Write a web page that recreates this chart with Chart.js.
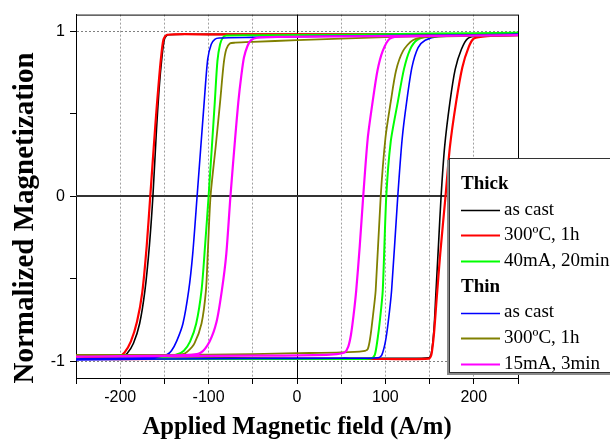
<!DOCTYPE html>
<html>
<head>
<meta charset="utf-8">
<script src="https://cdn.jsdelivr.net/npm/chart.js@4.4.0/dist/chart.umd.min.js"></script>
<style>
html, body { margin: 0; padding: 0; background: #fff; overflow: hidden; }
#wrap { position: relative; width: 610px; height: 441px; }
</style>
</head>
<body>
<div id="wrap"><canvas id="loops" width="610" height="441"></canvas></div>
<script>
"use strict";
/* globals Chart */

// each loop: descending branch (+250 -> -250) then ascending branch (-250 -> +250)
const thickCastH = [250, 150, 0, -100, -146, -150, -153, -156, -159, -163, -167, -172, -178, -185, -192, -198, -212, -250,
	-250, -150, 0, 100, 149, 152, 155, 157, 160, 163, 167, 173, 179, 186, 193, 205, 250];
const thickCastM = [0.975, 0.98, 0.98, 0.98, 0.978, 0.95, 0.83, 0.65, 0.4, 0, -0.3, -0.57, -0.77, -0.89, -0.95, -0.968, -0.978, -0.982,
	-0.982, -0.98, -0.98, -0.98, -0.978, -0.95, -0.8, -0.6, -0.3, 0, 0.3, 0.57, 0.77, 0.89, 0.955, 0.97, 0.975];

const thickAnnealH = [250, 150, 0, -100, -147, -151, -154, -157, -160, -166, -170, -175, -181, -188, -195, -201, -215, -250,
	-250, -150, 0, 100, 149, 152, 155, 158, 162, 168, 173, 180, 187, 194, 200, 215, 250];
const thickAnnealM = [0.975, 0.98, 0.98, 0.98, 0.978, 0.95, 0.83, 0.65, 0.45, 0, -0.3, -0.58, -0.76, -0.88, -0.945, -0.968, -0.978, -0.982,
	-0.985, -0.985, -0.985, -0.985, -0.983, -0.96, -0.83, -0.62, -0.35, 0, 0.3, 0.57, 0.78, 0.9, 0.955, 0.97, 0.975];

const thickCurrentH = [250, 150, 50, -50, -80, -84, -87, -90, -93, -100, -104, -108, -114, -121, -128, -136, -150, -250,
	-250, -150, -50, 50, 84, 88, 91, 94, 97, 101, 106, 114, 121, 128, 136, 150, 250];
const thickCurrentM = [0.99, 0.985, 0.978, 0.975, 0.973, 0.96, 0.92, 0.82, 0.57, 0, -0.3, -0.57, -0.77, -0.88, -0.935, -0.958, -0.975, -0.985,
	-0.985, -0.985, -0.985, -0.985, -0.982, -0.96, -0.87, -0.74, -0.57, 0, 0.33, 0.57, 0.77, 0.89, 0.947, 0.97, 0.99];

const thinCastH = [250, 150, 50, -50, -88, -93, -97, -101, -105, -113, -118, -122.5, -129, -136, -142, -147, -160, -250,
	-250, -150, -50, 50, 92, 96, 100, 103, 107, 114, 119, 124, 130, 137, 145, 160, 250];
const thinCastM = [0.98, 0.975, 0.97, 0.962, 0.958, 0.95, 0.92, 0.83, 0.57, 0, -0.35, -0.57, -0.77, -0.875, -0.935, -0.958, -0.975, -0.985,
	-0.99, -0.985, -0.982, -0.98, -0.977, -0.96, -0.88, -0.77, -0.57, 0, 0.35, 0.57, 0.78, 0.9, 0.945, 0.968, 0.98];

const thinAnnealH = [250, 150, 50, 0, -50, -70, -76, -80, -83, -87, -92, -97.8, -101, -103, -108, -116, -124, -130, -150, -250,
	-250, -150, -50, 0, 50, 75, 80, 83, 86, 89, 94.7, 100, 106, 112, 120, 131, 150, 250];
const thinAnnealM = [0.975, 0.97, 0.955, 0.945, 0.935, 0.93, 0.925, 0.89, 0.8, 0.57, 0.3, 0, -0.35, -0.57, -0.77, -0.89, -0.94, -0.957, -0.962, -0.962,
	-0.96, -0.96, -0.955, -0.95, -0.945, -0.937, -0.925, -0.85, -0.72, -0.57, 0, 0.35, 0.57, 0.76, 0.88, 0.945, 0.965, 0.975];

const thinCurrentH = [250, 150, 50, -20, -45, -52, -56, -60, -63, -66.4, -70, -75.3, -80, -85, -91, -99, -109, -125, -250,
	-250, -150, -50, 20, 45, 54, 58, 61, 64, 67, 71, 74.9, 80, 85.5, 91, 97, 105, 120, 250];
const thinCurrentM = [0.975, 0.972, 0.968, 0.965, 0.96, 0.945, 0.91, 0.84, 0.73, 0.57, 0.35, 0, -0.35, -0.57, -0.76, -0.88, -0.947, -0.962, -0.97,
	-0.97, -0.968, -0.965, -0.962, -0.955, -0.945, -0.91, -0.84, -0.72, -0.57, -0.3, 0, 0.35, 0.57, 0.76, 0.88, 0.955, 0.968, 0.975];

const seriesNames = ['as cast', '300ºC, 1h', '40mA, 20min', 'as cast', '300ºC, 1h', '15mA, 3min'];
const seriesColors = ['#000000', '#ff0000', '#00ff00', '#0000ff', '#808000', '#ff00ff'];
const seriesWidths = [1.6, 2.2, 2, 1.6, 1.8, 2.2];

const xTicks = [-250, -200, -150, -100, -50, 0, 50, 100, 150, 200, 250];
const xLabels = [-200, -100, 0, 100, 200];
const xGrid = [-200, -150, -100, -50, 50, 100, 150, 200];
const yTicks = [-1, -0.5, 0, 0.5, 1];
const yLabels = [-1, 0, 1];
const yGrid = [-1, 1];

function loop(h, m) {
	return h.map(function(v, i) { return {x: v, y: m[i]}; });
}

const loopData = [
	loop(thickCastH, thickCastM),
	loop(thickAnnealH, thickAnnealM),
	loop(thickCurrentH, thickCurrentM),
	loop(thinCastH, thinCastM),
	loop(thinAnnealH, thinAnnealM),
	loop(thinCurrentH, thinCurrentM)
];

const serif = '"Liberation Serif", "Times New Roman", serif';

const extras = {
	id: 'extras',
	beforeDatasetsDraw: function(chart) {
		const ctx = chart.ctx;
		const a = chart.chartArea;
		const x0 = chart.scales.x.getPixelForValue(0);
		const y0 = chart.scales.y.getPixelForValue(0);
		ctx.save();
		ctx.strokeStyle = '#000';
		ctx.lineWidth = 1;
		ctx.strokeRect(a.left + 0.5, a.top + 0.5, a.right - a.left, a.bottom - a.top);
		ctx.beginPath();
		ctx.moveTo(Math.round(x0) + 0.5, a.top);
		ctx.lineTo(Math.round(x0) + 0.5, a.bottom);
		ctx.stroke();
		ctx.strokeStyle = '#333';
		ctx.lineWidth = 2;
		ctx.beginPath();
		ctx.moveTo(a.left, Math.round(y0));
		ctx.lineTo(a.right, Math.round(y0));
		ctx.stroke();
		ctx.restore();
	},
	afterDraw: function(chart) {
		const ctx = chart.ctx;
		const a = chart.chartArea;
		ctx.save();

		// axis titles
		ctx.fillStyle = '#000';
		ctx.textAlign = 'center';
		ctx.textBaseline = 'alphabetic';
		ctx.font = 'bold 24.7px ' + serif;
		ctx.fillText('Applied Magnetic field (A/m)', (a.left + a.right) / 2, 434);
		ctx.save();
		ctx.translate(33, 218);
		ctx.rotate(-Math.PI / 2);
		ctx.font = 'bold 29px ' + serif;
		ctx.fillText('Normalized Magnetization', 0, 0);
		ctx.restore();

		// legend box with shadow
		ctx.fillStyle = '#8a8a8a';
		ctx.fillRect(447, 160, 200, 215);
		ctx.fillStyle = '#fff';
		ctx.fillRect(449, 158, 200, 215);
		ctx.strokeStyle = '#333';
		ctx.lineWidth = 1;
		ctx.strokeRect(449.5, 158.5, 200, 214);

		const rows = [
			{head: 'Thick'}, {ds: 0}, {ds: 1}, {ds: 2},
			{head: 'Thin'}, {ds: 3}, {ds: 4}, {ds: 5}
		];
		ctx.textAlign = 'left';
		ctx.textBaseline = 'middle';
		rows.forEach(function(r, i) {
			const y = 184 + i * 25.7;
			ctx.fillStyle = '#000';
			if (r.head) {
				ctx.font = 'bold 19px ' + serif;
				ctx.fillText(r.head, 461, y);
			} else {
				ctx.strokeStyle = seriesColors[r.ds];
				ctx.lineWidth = seriesWidths[r.ds];
				ctx.beginPath();
				ctx.moveTo(461, Math.round(y) + 0.5);
				ctx.lineTo(500, Math.round(y) + 0.5);
				ctx.stroke();
				ctx.font = '19px ' + serif;
				ctx.fillText(seriesNames[r.ds], 504, y);
			}
		});
		ctx.restore();
	}
};

new Chart(document.getElementById('loops'), {
	type: 'scatter',
	data: {
		datasets: loopData.map(function(d, i) {
			return {
				label: seriesNames[i],
				data: d,
				showLine: true,
				borderColor: seriesColors[i],
				backgroundColor: seriesColors[i],
				borderWidth: seriesWidths[i],
				pointRadius: 0,
				tension: 0.25,
				order: 6 - i
			};
		})
	},
	options: {
		responsive: false,
		animation: false,
		devicePixelRatio: 1,
		layout: {
			padding: {top: 14, right: 92, left: 0, bottom: 0}
		},
		scales: {
			x: {
				type: 'linear',
				min: -250,
				max: 250,
				afterBuildTicks: function(scale) {
					scale.ticks = xTicks.map(function(v) { return {value: v}; });
				},
				afterFit: function(scale) {
					scale.height = 63;
				},
				ticks: {
					autoSkip: false,
					maxRotation: 0,
					padding: 4,
					color: '#000',
					font: {family: '"Liberation Sans", Arial, sans-serif', size: 16},
					callback: function(val) {
						return xLabels.indexOf(val) >= 0 ? String(val) : '';
					}
				},
				grid: {
					color: function(c) {
						return c.tick && xGrid.indexOf(c.tick.value) >= 0 ? '#a0a0a0' : 'rgba(0,0,0,0)';
					},
					lineWidth: 1,
					tickColor: '#000',
					tickLength: 6
				},
				border: {display: true, color: '#000', width: 1, dash: [2, 2]}
			},
			y: {
				type: 'linear',
				min: -1.1,
				max: 1.1,
				afterBuildTicks: function(scale) {
					scale.ticks = yTicks.map(function(v) { return {value: v}; });
				},
				afterFit: function(scale) {
					scale.width = 76;
				},
				ticks: {
					autoSkip: false,
					padding: 5,
					color: '#000',
					font: {family: '"Liberation Sans", Arial, sans-serif', size: 16},
					callback: function(val) {
						return yLabels.indexOf(val) >= 0 ? String(val) : '';
					}
				},
				grid: {
					color: function(c) {
						return c.tick && yGrid.indexOf(c.tick.value) >= 0 ? '#808080' : 'rgba(0,0,0,0)';
					},
					lineWidth: 1,
					tickColor: '#000',
					tickLength: 6
				},
				border: {display: true, color: '#000', width: 1, dash: [2, 2]}
			}
		},
		plugins: {
			legend: {display: false},
			tooltip: {enabled: false}
		}
	},
	plugins: [extras]
});
</script>
</body>
</html>
